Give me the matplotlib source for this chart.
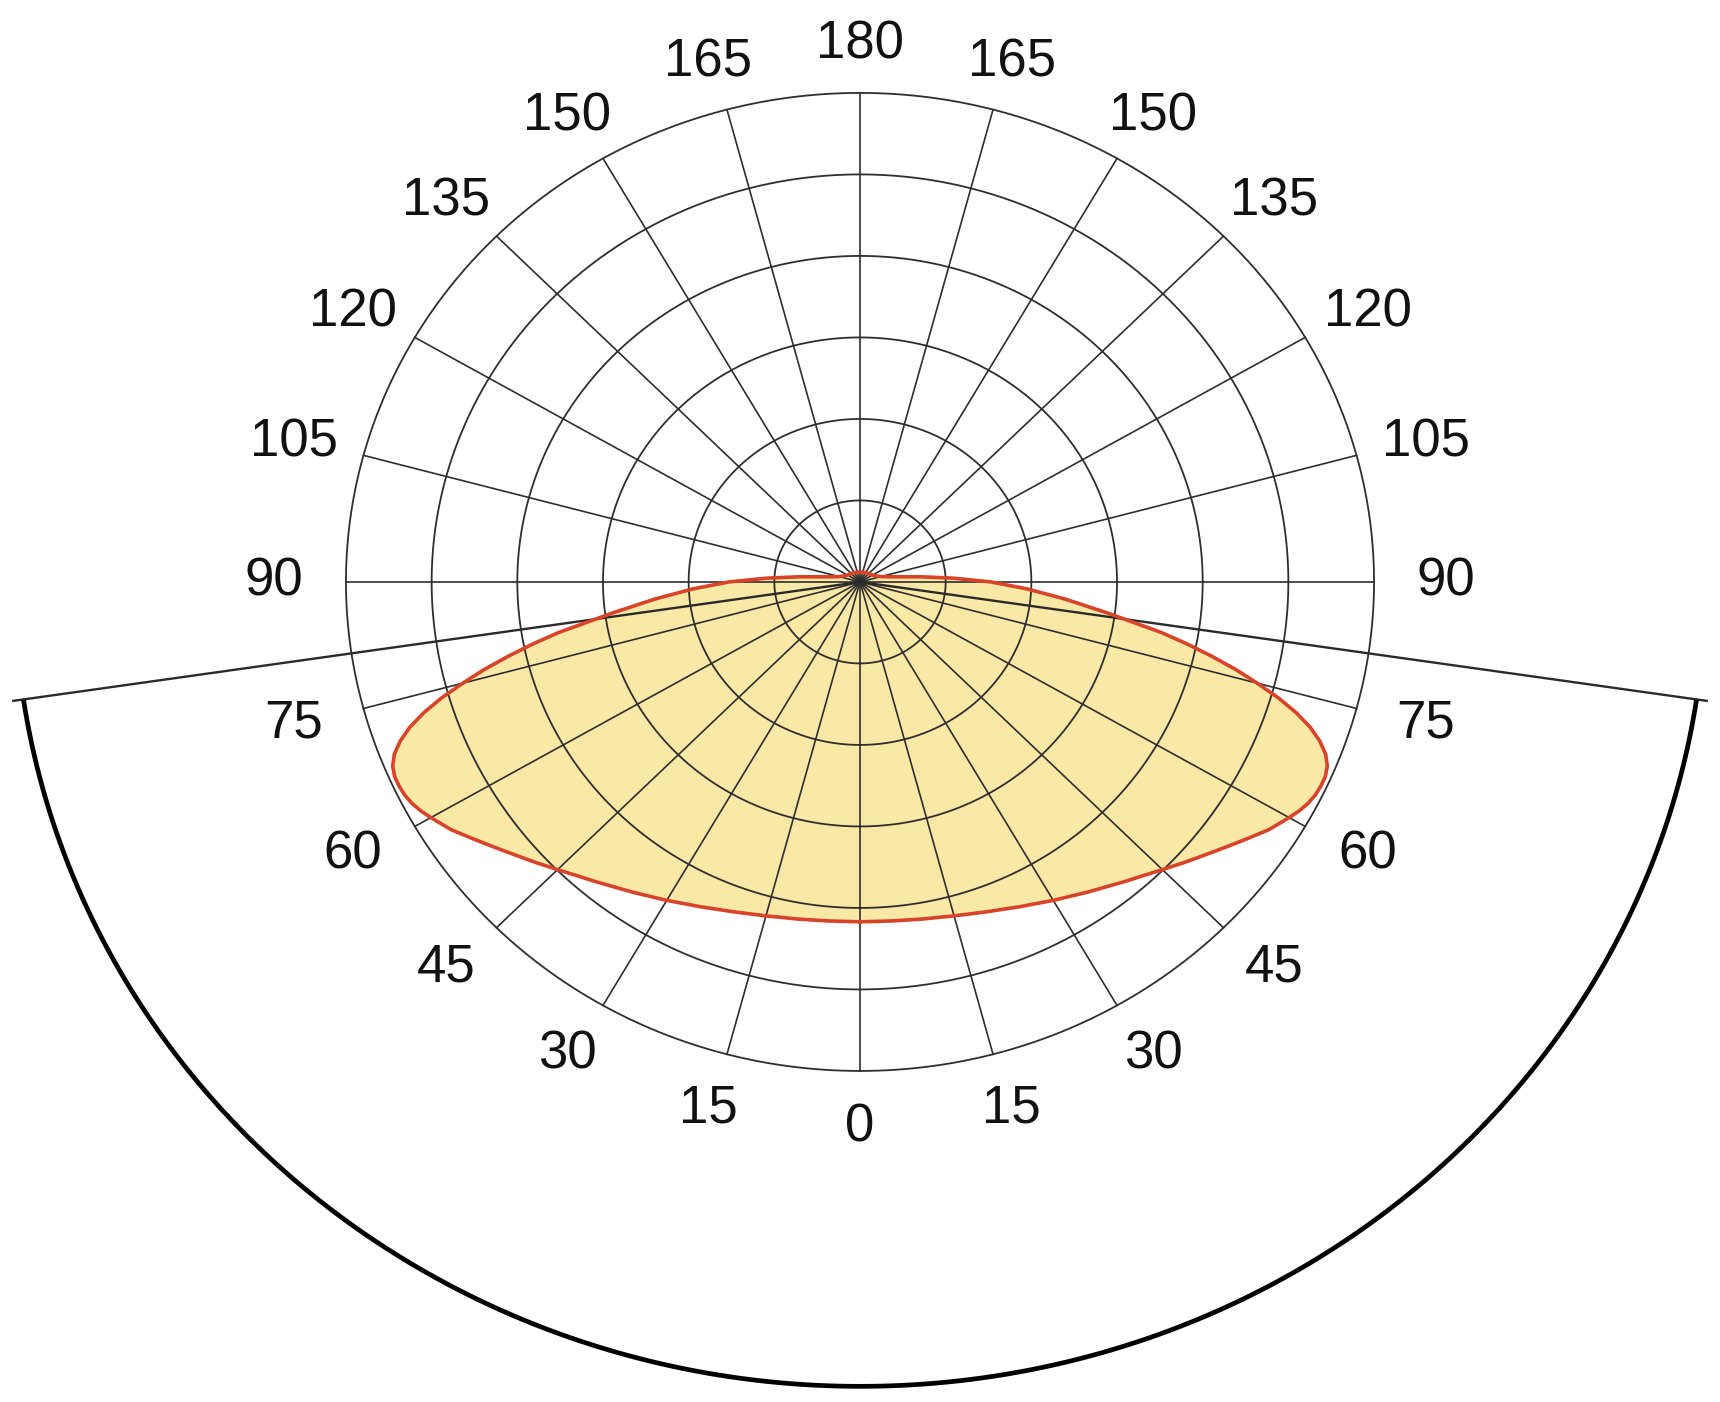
import matplotlib.pyplot as plt
import numpy as np

# light distribution (relative to outer ring), symmetric C0/C180 plane
gamma_deg = [0, 5, 10, 15, 20, 25, 30, 35, 40, 45, 47.5, 50, 52.5, 55, 57.5,
             60, 61.25, 62.5, 63.75, 65, 66.25, 67.5, 68.75, 70, 71.25, 72.5,
             73.75, 75, 76.25, 77.5, 78.75, 80, 82.5, 85, 87.5, 90,
             92.5, 95, 97.5, 100, 105, 110, 120, 135, 150, 180]
intensity = [0.695, 0.696, 0.700, 0.707, 0.718, 0.733, 0.752, 0.774, 0.800,
             0.832, 0.851, 0.871, 0.893, 0.917, 0.943, 0.964, 0.974, 0.982,
             0.987, 0.989, 0.989, 0.984, 0.972, 0.952, 0.925, 0.89, 0.848,
             0.80, 0.752, 0.70, 0.648, 0.595, 0.485, 0.40, 0.325, 0.255,
             0.18, 0.12, 0.08, 0.06, 0.042, 0.035, 0.028, 0.024, 0.022, 0.02]

ring_radii = [1/6, 2/6, 3/6, 4/6, 5/6, 1.0]
spoke_deg = list(range(0, 360, 15))
label_deg = list(range(0, 181, 15))
label_text = [str(a) for a in label_deg]

# mounting arc and cut-off lines
arc_radius = 1.645
arc_half_deg = 81.6
cut_len = 1.665

GRID = "#2e2e2e"
FILL = "#fae8a6"
EDGE = "#d8432a"


def to_xy(r, deg, side=1):
    t = np.radians(np.asarray(deg, dtype=float))
    r = np.asarray(r, dtype=float)
    return side * r * np.sin(t), -r * np.cos(t)


fig = plt.figure(figsize=(17.2, 14.02), dpi=100)
ax = fig.add_axes([0, 0, 1, 1])
ax.set_xlim(-1.673, 1.673)
ax.set_ylim(-1.677, 1.190)
ax.axis("off")

# curve (fill under the grid, outline on top)
xr, yr = to_xy(intensity, gamma_deg, 1)
xl, yl = to_xy(intensity[::-1], gamma_deg[::-1], -1)
cx = np.concatenate([xr, xl])
cy = np.concatenate([yr, yl])
ax.fill(cx, cy, color=FILL, zorder=1, lw=0)

# rings
t = np.linspace(0, 360, 721)
for r in ring_radii:
    x, y = to_xy(np.full_like(t, r), t)
    ax.plot(x, y, color=GRID, lw=1.3, zorder=2)

# spokes
for a in spoke_deg:
    x, y = to_xy([0, 1.0], [a, a])
    ax.plot(x, y, color=GRID, lw=1.2, zorder=2)

ax.plot(cx, cy, color=EDGE, lw=2.6, zorder=4, solid_joinstyle="round")

# cut-off lines from centre
for s in (-1, 1):
    x, y = to_xy([0, cut_len], [arc_half_deg, arc_half_deg], s)
    ax.plot(x, y, color="#2a2a2a", lw=1.7, zorder=3)

ta = np.linspace(-arc_half_deg, arc_half_deg, 400)
x, y = to_xy(np.full_like(ta, arc_radius), ta)
ax.plot(x, y, color="black", lw=3.4, zorder=3, solid_capstyle="butt")

# angle labels (sit on a slightly wider-than-tall ellipse)
for a, s in zip(label_deg, label_text):
    sides = (1,) if a in (0, 180) else (-1, 1)
    ry = 1.115 if a <= 90 else 1.10
    for side in sides:
        th = np.radians(a)
        x = side * 1.14 * np.sin(th)
        y = -ry * np.cos(th)
        ax.text(x, y, s, ha="center", va="center", fontsize=38,
                family=["Liberation Sans", "DejaVu Sans"], color="#111111")

fig.savefig("out.png", dpi=100, facecolor="white")
